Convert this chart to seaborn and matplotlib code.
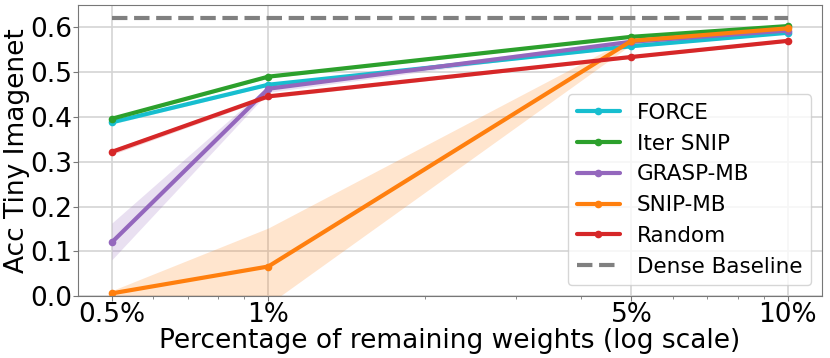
import numpy as np
import pandas as pd
import matplotlib
matplotlib.use('Agg')
import matplotlib.pyplot as plt
import seaborn as sns

# remaining weights in %
pct = [0.5, 1, 5, 10]
tick_labels = ['0.5%', '1%', '5%', '10%']

methods = ['FORCE', 'Iter SNIP', 'GRASP-MB', 'SNIP-MB', 'Random']
colors = ['tab:cyan', 'tab:green', 'tab:purple', 'tab:orange', 'tab:red']

force_mean = [0.388, 0.472, 0.558, 0.588]
force_lo = [0.384, 0.469, 0.555, 0.586]
force_hi = [0.392, 0.475, 0.561, 0.590]

iter_snip_mean = [0.396, 0.490, 0.579, 0.603]
iter_snip_lo = [0.393, 0.487, 0.577, 0.601]
iter_snip_hi = [0.399, 0.493, 0.581, 0.605]

grasp_mean = [0.120, 0.463, 0.568, 0.593]
grasp_lo = [0.081, 0.455, 0.563, 0.590]
grasp_hi = [0.163, 0.470, 0.573, 0.596]

snip_mean = [0.006, 0.066, 0.570, 0.598]
snip_lo = [-0.003, -0.019, 0.562, 0.594]
snip_hi = [0.012, 0.152, 0.578, 0.602]

random_mean = [0.322, 0.446, 0.534, 0.570]
random_lo = [0.316, 0.442, 0.531, 0.567]
random_hi = [0.328, 0.450, 0.537, 0.573]

dense_baseline = 0.621

means = [force_mean, iter_snip_mean, grasp_mean, snip_mean, random_mean]
lows = [force_lo, iter_snip_lo, grasp_lo, snip_lo, random_lo]
highs = [force_hi, iter_snip_hi, grasp_hi, snip_hi, random_hi]

sns.set_style('ticks')
plt.rcParams['font.family'] = ['DejaVu Sans']
plt.rcParams['text.color'] = 'black'
plt.rcParams['axes.labelcolor'] = 'black'

fig, ax = plt.subplots(figsize=(8.3, 3.58), dpi=100)

for name, c, m, lo, hi in zip(methods, colors, means, lows, highs):
    ax.fill_between(pct, lo, hi, color=c, alpha=0.2, linewidth=0)
    sns.lineplot(x=pct, y=m, ax=ax, color=c, label=name, linewidth=3,
                 marker='o', markersize=5.5, markeredgewidth=0)

sns.lineplot(x=pct, y=[dense_baseline] * len(pct), ax=ax, color='gray',
             linestyle='--', linewidth=3, label='Dense Baseline')

ax.set_xscale('log')
ax.set_xticks(pct)
ax.set_xticklabels(tick_labels)
ax.xaxis.set_minor_formatter(matplotlib.ticker.NullFormatter())
ax.set_ylim(0, 0.65)
ax.set_yticks([0.0, 0.1, 0.2, 0.3, 0.4, 0.5, 0.6])
ax.tick_params(which='both', color='#777777')
ax.tick_params(labelsize=19, pad=1, labelcolor='black')
ax.grid(True, which='major', color='#d4d4d4', linewidth=1.2)
for s in ax.spines.values():
    s.set_color('#777777')

ax.set_xlabel('Percentage of remaining weights (log scale)', fontsize=19, labelpad=0)
ax.set_ylabel('Acc Tiny Imagenet', fontsize=19, labelpad=0)
ax.legend(loc='lower right', fontsize=15.5)

plt.subplots_adjust(left=0.094, right=0.990, top=0.986, bottom=0.173)
plt.savefig('out.png', dpi=100)
